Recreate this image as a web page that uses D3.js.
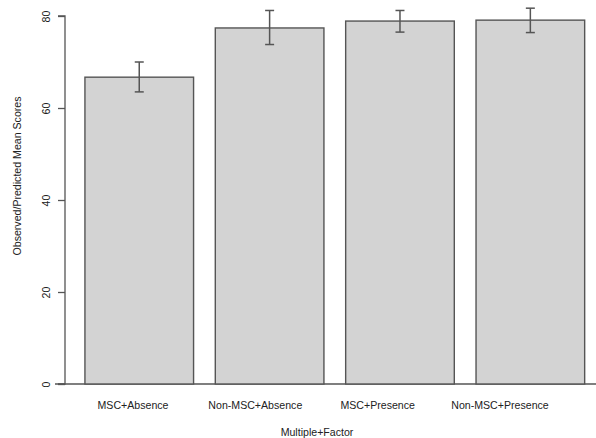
<!DOCTYPE html>
<html>
<head>
<meta charset="utf-8">
<script src="https://cdn.jsdelivr.net/npm/d3@7"></script>
<style>
  html, body { margin: 0; padding: 0; background: #fff; }
  svg { display: block; font-family: "Liberation Sans", Arial, sans-serif; }
</style>
</head>
<body>
<svg id="chart" width="596" height="438"></svg>
<script>
// Group means with upper/lower error limits
const categories = ["MSC+Absence", "Non-MSC+Absence", "MSC+Presence", "Non-MSC+Presence"];
const means = [66.7, 77.4, 78.9, 79.1];
const lower = [63.5, 73.8, 76.5, 76.4];
const upper = [70.0, 81.2, 81.2, 81.7];
const yTicks = [0, 20, 40, 60, 80];

const svg = d3.select("#chart");
const ink = "#555";
const textColor = "#222";
const fs = 10.6;

// Vertical scale: 0..80 spans the axis line
const y = d3.scaleLinear().domain([0, 80]).range([384, 16]);

// Bars: R-style barplot spacing (width 1, space 0.2)
const x = d3.scaleBand().domain(categories).range([63.2, 606.4]).paddingInner(0.1667).paddingOuter(0.1667);
// Label positions along the x axis
const xLab = d3.scalePoint().domain(categories).range([133, 500]);

// Baseline
svg.append("line")
  .attr("x1", 55).attr("x2", 596)
  .attr("y1", y(0)).attr("y2", y(0))
  .attr("stroke", ink).attr("stroke-width", 1.3);

// Bars
svg.append("g").selectAll("rect")
  .data(categories)
  .join("rect")
  .attr("x", d => x(d))
  .attr("width", x.bandwidth())
  .attr("y", (d, i) => y(means[i]))
  .attr("height", (d, i) => y(0) - y(means[i]))
  .attr("fill", "#d3d3d3")
  .attr("stroke", ink)
  .attr("stroke-width", 1.4);

// Error bars
const eb = svg.append("g").attr("stroke", ink).attr("stroke-width", 1.5);
categories.forEach((c, i) => {
  const cx = x(c) + x.bandwidth() / 2;
  eb.append("line").attr("x1", cx).attr("x2", cx).attr("y1", y(upper[i])).attr("y2", y(lower[i]));
  eb.append("line").attr("x1", cx - 4.5).attr("x2", cx + 4.5).attr("y1", y(upper[i])).attr("y2", y(upper[i]));
  eb.append("line").attr("x1", cx - 4.5).attr("x2", cx + 4.5).attr("y1", y(lower[i])).attr("y2", y(lower[i]));
});

// Y axis
const yAxis = svg.append("g")
  .attr("transform", "translate(65,0)")
  .call(d3.axisLeft(y).tickValues(yTicks).tickSize(7).tickFormat(d3.format("d")));
yAxis.select(".domain").attr("stroke", ink).attr("stroke-width", 1.3).attr("d", `M-7,${y(80)}H0V${y(0)}H-7`);
yAxis.selectAll(".tick line").attr("stroke", ink).attr("stroke-width", 1.3);
yAxis.selectAll(".tick text")
  .attr("fill", textColor)
  .attr("font-size", fs)
  .attr("text-anchor", "middle")
  .attr("x", 0).attr("dy", 0)
  .attr("transform", "translate(-19,0) rotate(-90)")
  .attr("dominant-baseline", "central");

// Category labels
svg.append("g").selectAll("text")
  .data(categories)
  .join("text")
  .attr("x", d => xLab(d))
  .attr("y", 409)
  .attr("text-anchor", "middle")
  .attr("font-size", fs)
  .attr("fill", textColor)
  .text(d => d);

// Axis titles
svg.append("text")
  .attr("x", 317).attr("y", 436)
  .attr("text-anchor", "middle")
  .attr("font-size", fs)
  .attr("fill", textColor)
  .text("Multiple+Factor");

svg.append("text")
  .attr("transform", "translate(17,176) rotate(-90)")
  .attr("text-anchor", "middle")
  .attr("dominant-baseline", "central")
  .attr("font-size", fs)
  .attr("fill", textColor)
  .text("Observed/Predicted Mean Scores");
</script>
</body>
</html>
